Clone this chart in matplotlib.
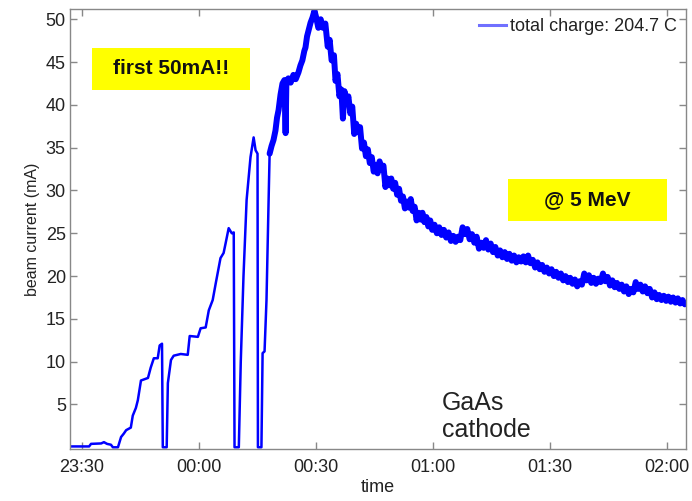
import numpy as np
import matplotlib
matplotlib.use("Agg")
import matplotlib.pyplot as plt
from matplotlib.lines import Line2D
from matplotlib.patches import Rectangle

plt.rcParams['font.family'] = ['Liberation Sans', 'DejaVu Sans']

# time in minutes after 23:30, beam current in mA
# ramp-up with the three trips
ramp_t = [-2.8, 1.8, 2.3, 4.9, 5.6, 6.4, 7.4, 7.9, 9.2, 10.0, 10.7, 11.3, 12.5, 13.0,
          13.8, 14.3, 15.1, 16.9, 17.6, 18.4, 19.4, 19.9, 20.5, 20.7, 21.7, 22.0,
          22.8, 23.5, 25.3, 27.1, 27.6, 29.7, 30.4, 31.7, 32.5, 33.5, 34.3, 35.5,
          36.3, 36.8, 37.6, 38.4, 38.9, 39.1, 40.2, 40.7, 41.4, 42.2, 43.2, 44.0,
          44.5, 45.0, 45.1, 46.0, 46.3, 46.8, 47.3, 47.8, 48.1]
ramp_mA = [0.1, 0.1, 0.4, 0.45, 0.6, 0.4, 0.3, 0.0, 0.0, 1.2, 1.6, 2.0, 2.3, 3.7,
           4.6, 5.5, 7.8, 8.1, 9.3, 10.4, 10.4, 11.9, 12.1, 0.0, 0.0, 7.5,
           10.2, 10.7, 10.9, 10.8, 13.0, 12.9, 13.9, 14.0, 16.0, 17.2, 19.2, 22.1,
           22.7, 23.8, 25.6, 25.0, 25.1, 0.0, 0.0, 10.0, 20.0, 28.9, 33.9, 36.2,
           34.7, 34.3, 0.0, 0.0, 11.0, 11.2, 17.2, 28.0, 34.3]

# the final (noisy) run up to 50 mA and the decay
run_t = [48.1, 48.6, 49.1, 49.6, 50.0, 50.4, 50.9, 51.4, 51.9, 52.2, 52.4, 52.9, 53.5,
         54.2, 54.8, 55.5, 56.0, 56.5, 57.0, 57.3, 57.7, 58.1, 58.6, 59.1, 59.6,
         60.0, 60.6, 61.2, 61.8, 62.4, 63.0, 63.5, 64.0, 64.6, 65.0, 65.5, 66.0,
         66.5, 66.9, 67.3, 67.8, 68.3, 68.8, 69.3, 69.8, 70.3, 70.8, 71.3, 71.8,
         72.3, 72.8, 73.3, 73.8, 74.3, 74.8, 75.3, 75.8, 76.3, 76.8, 77.3, 77.8,
         78.3, 78.8, 79.3, 79.8, 80.3, 80.8, 81.3, 81.8, 82.3, 82.8, 83.3, 83.8,
         84.3, 84.8, 85.3, 85.8, 86.3, 86.8, 87.3, 87.8, 88.3, 88.8, 89.3, 89.8,
         90.4, 91.0, 91.6, 92.2, 92.8, 93.4, 94.0, 94.6, 95.2, 95.8, 96.4, 97.0,
         97.6, 98.2, 98.8, 99.4, 100.0, 100.6, 101.2, 101.8, 102.4, 103.0, 103.6,
         104.2, 104.8, 105.4, 106.0, 106.6, 107.2, 107.8, 108.4, 109.0, 109.6,
         110.2, 110.8, 111.4, 112.0, 112.6, 113.2, 113.8, 114.4, 115.0, 115.6,
         116.2, 116.8, 117.4, 118.0, 118.6, 119.2, 119.8, 120.4, 121.0, 121.6,
         122.2, 122.8, 123.4, 124.0, 124.6, 125.2, 125.8, 126.4, 127.0, 127.6,
         128.2, 128.8, 129.4, 130.0, 130.6, 131.2, 131.8, 132.4, 133.0, 133.6,
         134.2, 134.8, 135.4, 136.0, 136.6, 137.2, 137.8, 138.4, 139.0, 139.6,
         140.2, 140.8, 141.4, 142.0, 142.6, 143.2, 143.8, 144.4, 145.0, 145.6,
         146.2, 146.8, 147.4, 148.0, 148.6, 149.2, 149.8, 150.4, 151.0, 151.6,
         152.2, 152.8, 153.4, 154.0, 154.6]
run_mA = [34.3, 35.2, 35.9, 37.0, 38.5, 39.4, 41.2, 42.5, 42.9, 36.7, 42.6, 43.1, 42.6,
          43.5, 43.0, 43.8, 44.6, 45.2, 46.3, 46.7, 48.0, 48.7, 49.6, 50.2, 51.0,
          50.3, 49.0, 50.0, 49.0, 49.5, 46.8, 47.6, 45.2, 45.8, 42.8, 43.6, 41.0,
          41.8, 38.4, 41.6, 40.2, 41.0, 39.0, 39.8, 36.6, 37.8, 36.8, 37.4, 34.9,
          35.6, 34.0, 34.8, 33.2, 33.9, 32.2, 33.0, 32.0, 33.4, 32.4, 32.9, 30.4,
          31.4, 30.6, 31.4, 30.2, 30.9, 29.5, 30.2, 28.8, 29.3, 27.9, 28.7, 28.0,
          29.0, 27.6, 28.1, 26.5, 27.4, 26.6, 27.4, 26.3, 26.9, 25.8, 26.5, 25.4,
          26.0, 25.0, 25.7, 24.8, 25.4, 24.5, 25.1, 24.1, 24.7, 24.0, 24.6, 24.2,
          25.7, 24.9, 25.5, 24.3, 24.9, 23.9, 24.6, 23.2, 23.9, 23.3, 24.2,
          23.1, 23.8, 22.8, 23.4, 22.4, 23.0, 22.2, 22.8, 22.0, 22.6,
          21.8, 22.4, 21.6, 22.2, 21.7, 22.3, 21.6, 22.4, 21.5, 21.9,
          21.0, 21.6, 20.8, 21.3, 20.5, 21.0, 20.3, 20.8, 20.0, 20.5,
          19.8, 20.3, 19.5, 20.0, 19.3, 19.8, 19.1, 19.6, 18.8, 19.4,
          19.0, 20.3, 19.5, 20.1, 19.2, 19.8, 19.1, 19.7, 19.3, 20.3,
          19.4, 19.9, 18.9, 19.5, 18.7, 19.2, 18.5, 19.0, 18.2, 18.8,
          17.9, 18.5, 18.1, 19.3, 18.5, 19.0, 18.2, 18.8, 18.0, 18.5,
          17.5, 18.1, 17.3, 17.8, 17.2, 17.7, 17.1, 17.6, 17.0, 17.5,
          16.9, 17.4, 16.8, 17.2, 16.7]

tick_min = [0, 30, 60, 90, 120, 150]
tick_labels = ['23:30', '00:00', '00:30', '01:00', '01:30', '02:00']
y_ticks = [5, 10, 15, 20, 25, 30, 35, 40, 45, 50]

C_LINE = '#0000ff'
C_AXIS = '#888888'
C_BOX = '#ffff00'
C_TEXT = '#222222'

fig = plt.figure(figsize=(6.92, 5.01), dpi=100)
ax = fig.add_axes([70 / 692, 1 - 449 / 501, 616 / 692, 440 / 501])

ax.plot(ramp_t, ramp_mA, color=C_LINE, lw=1.8, solid_joinstyle='round')
ax.plot(run_t, run_mA, color=C_LINE, lw=4.3, solid_joinstyle='round',
        solid_capstyle='round')

ax.set_xlim(-3.1, 154.9)
ax.set_ylim(-0.2, 51.2)
ax.set_xticks(tick_min)
ax.set_xticklabels(tick_labels)
ax.set_yticks(y_ticks)

ax.tick_params(direction='in', top=True, right=True, length=5, width=1,
               color=C_AXIS, labelsize=13, labelcolor=C_TEXT)
ax.tick_params(axis='x', pad=7)
ax.tick_params(axis='y', pad=3)
for sp in ax.spines.values():
    sp.set_color(C_AXIS)
    sp.set_linewidth(1)

ax.set_xlabel('time', fontsize=13, color=C_TEXT, labelpad=2)
ax.set_ylabel('beam current (mA)', fontsize=11.5, color=C_TEXT, labelpad=4)

# legend
handle = Line2D([0], [0], color='#7070ff', lw=2.2)
ax.legend([handle], ['total charge: 204.7 C'], loc='upper right', frameon=False,
          fontsize=13, handlelength=1.5, handletextpad=0.2, borderaxespad=0.1,
          labelcolor=C_TEXT)

# yellow annotation boxes
ax.add_patch(Rectangle((0.0357, 0.816), 0.2565, 0.0955, transform=ax.transAxes,
                       facecolor=C_BOX, edgecolor='none', zorder=1))
ax.text(0.164, 0.864, 'first 50mA!!', transform=ax.transAxes, ha='center',
        va='center', fontsize=15, fontweight='bold', color='#111111', zorder=2)
ax.add_patch(Rectangle((0.711, 0.518), 0.258, 0.0955, transform=ax.transAxes,
                       facecolor=C_BOX, edgecolor='none', zorder=1))
ax.text(0.840, 0.566, '@ 5 MeV', transform=ax.transAxes, ha='center',
        va='center', fontsize=15, fontweight='bold', color='#111111', zorder=2)

ax.text((442 - 70) / 616, (449 - 442) / 440, 'GaAs\ncathode', transform=ax.transAxes,
        ha='left', va='bottom', fontsize=18, color=C_TEXT, linespacing=1.15)

fig.savefig('out.png', dpi=100)
